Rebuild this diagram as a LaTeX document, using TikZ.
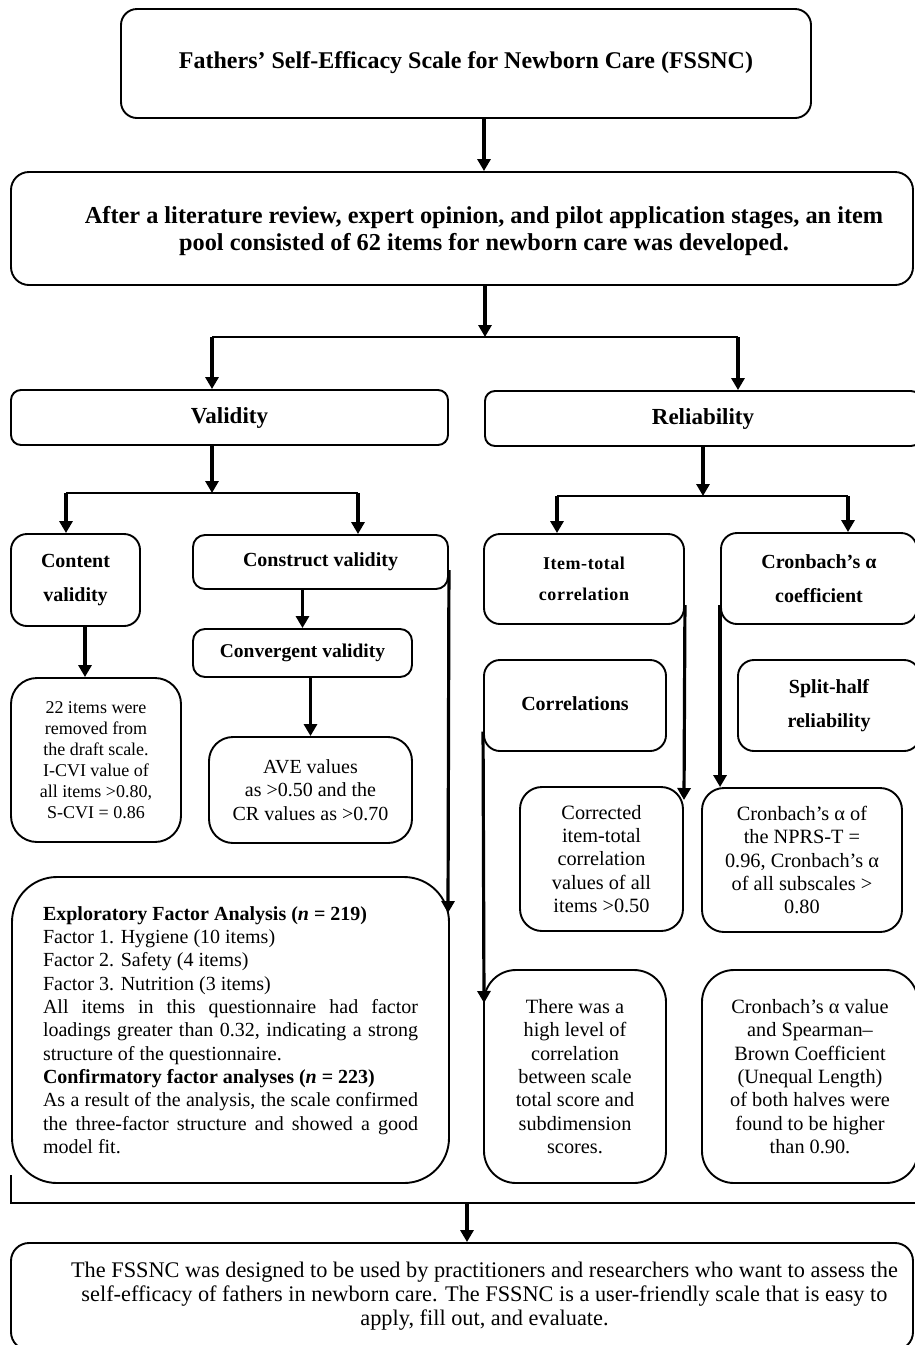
\documentclass[tikz,border=0pt]{standalone}
\usepackage{fontspec}
\setmainfont{Liberation Serif}
\usetikzlibrary{arrows.meta}
\newcommand\fsz[2]{\fontsize{#1}{#2}\selectfont}
\begin{document}
\begin{tikzpicture}[x=1pt,y=-1pt,
  bx/.style={draw, line width=1.9pt, rounded corners=#1, inner sep=0pt, align=center},
  bx/.default=12pt,
  hd/.style={font=\fsz{20}{34}\bfseries},
  bd/.style={font=\fsz{20.3}{23.3}},
  arr/.style={line width=3.2pt, -{Triangle[length=12pt,width=13pt]}},
  ln/.style={line width=2.5pt},
]
\useasboundingbox (0,0) rectangle (914,1345);

% top
\node[bx=16pt, minimum width=690pt, minimum height=109pt, font=\fsz{24}{28}\bfseries] (top) at (466,63.5)
  {\raisebox{7pt}{Fathers’ Self-Efficacy Scale for Newborn Care (FSSNC)}};
\node[bx=18pt, minimum width=902pt, minimum height=113pt] (pool) at (462,228.5) {};
\node[align=center, inner sep=0pt, font=\fsz{24.3}{27}\bfseries] (poolT) at (484,231.5)
  {After a literature review, expert opinion, and pilot application stages, an item\\pool consisted of 62 items for newborn care was developed.};

% level 2
\node[bx=10pt, minimum width=437pt, minimum height=55pt, font=\fsz{23}{27}\bfseries] (validity) at (229.5,417.5) {Validity};
\node[bx=10pt, minimum width=436pt, minimum height=55pt, font=\fsz{23}{27}\bfseries] (reliability) at (703,418.5) {Reliability};

% validity side
\node[bx=16pt, minimum width=129pt, minimum height=92pt, hd] (content) at (75.5,580) {Content\\validity};
\node[bx=12pt, minimum width=255pt, minimum height=54pt, hd] (construct) at (320.5,562) {\raisebox{4pt}{Construct validity}};
\node[bx=12pt, minimum width=219pt, minimum height=48pt, font=\fsz{19.5}{23}\bfseries] (convergent) at (302.5,653) {Convergent validity};
\node[bx=24pt, minimum width=203pt, minimum height=106pt, font=\fsz{20}{23.5}] (ave) at (310.5,790)
  {AVE values\\as >0.50 and the\\CR values as >0.70};
\node[bx=26pt, minimum width=170pt, minimum height=164pt, font=\fsz{18}{21}] (items22) at (96,760)
  {22 items were\\removed from\\the draft scale.\\I-CVI value of\\all items >0.80,\\S-CVI = 0.86};
\node[bx=45pt, minimum width=437pt, minimum height=306pt, text width=375pt, align=justify, font=\fsz{20}{23.3}] (efa) at (230.5,1030)
  {\textbf{Exploratory Factor Analysis (\textit{n} = 219)}\\
   Factor 1. Hygiene (10 items)\\
   Factor 2. Safety (4 items)\\
   Factor 3. Nutrition (3 items)\\
   All items in this questionnaire had factor\linebreak loadings greater than 0.32, indicating a strong\linebreak structure of the questionnaire.\\
   \textbf{Confirmatory factor analyses (\textit{n} = 223)}\\
   As a result of the analysis, the scale confirmed\linebreak the three-factor structure and showed a good\linebreak model fit.};

% reliability side
\node[bx=16pt, minimum width=200pt, minimum height=90pt, font=\fsz{18}{31}\bfseries\addfontfeature{LetterSpace=3}] (itemtotal) at (584,579) {Item-total\\correlation};
\node[bx=16pt, minimum width=196pt, minimum height=91pt, hd] (cron) at (819,578.5) {Cronbach’s α\\coefficient};
\node[bx=16pt, minimum width=182pt, minimum height=91pt, hd] (corr) at (575,705.5) {\raisebox{4pt}{Correlations}};
\node[bx=16pt, minimum width=182pt, minimum height=91pt, hd] (split) at (829,705.5) {Split-half\\reliability};
\node[bx=22pt, minimum width=163pt, minimum height=144pt, bd] (corrected) at (601.5,859)
  {Corrected\\item-total\\correlation\\values of all\\items >0.50};
\node[bx=22pt, minimum width=200pt, minimum height=144pt, bd] (cronres) at (802,860)
  {Cronbach's α of\\the NPRS-T =\\0.96, Cronbach’s α\\of all subscales >\\0.80};
\node[bx=32pt, minimum width=182pt, minimum height=213pt, bd] (therewas) at (575,1076.5)
  {There was a\\high level of\\correlation\\between scale\\total score and\\subdimension\\scores.};
\node[bx=32pt, minimum width=216pt, minimum height=213pt, bd] (cronval) at (810,1076.5)
  {Cronbach's α value\\and Spearman–\\Brown Coefficient\\(Unequal Length)\\of both halves were\\found to be higher\\than 0.90.};

% final
\node[bx=18pt, minimum width=902pt, minimum height=107pt] (final) at (462,1296.5) {};
\node[align=center, inner sep=0pt, font=\fsz{22.3}{24}] (finalT) at (484.5,1296)
  {The FSSNC was designed to be used by practitioners and researchers who want to assess the\\self-efficacy of fathers in newborn care. The FSSNC is a user-friendly scale that is easy to\\apply, fill out, and evaluate.};

% connectors
\draw[arr] (top.south -| poolT) -- (pool.north -| poolT);
\coordinate (jm) at (485,337);
\coordinate (jV) at (212,337);
\coordinate (jR) at (738,337);
\draw[arr] (pool.south -| jm) -- (jm);
\draw[ln] (jV) -- (jR);
\draw[arr] (jV) -- (jV |- validity.north);
\draw[arr] (jR) -- (jR |- reliability.north);

\coordinate (vj) at (212,493);
\coordinate (vl) at (66,493);
\coordinate (vr) at (358,493);
\draw[arr] (vj |- validity.south) -- (vj);
\draw[ln] (vl) -- (vr);
\draw[arr] (vl) -- (vl |- content.north);
\draw[arr] (vr) -- (vr |- construct.north);

\coordinate (rj) at (703,496);
\coordinate (rl) at (557,496);
\coordinate (rr) at (848,496);
\draw[arr] (reliability.south) -- (rj);
\draw[ln] (rl) -- (rr);
\draw[arr] (rl) -- (rl |- itemtotal.north);
\draw[arr] (rr) -- (rr |- cron.north);

\draw[arr] (construct.south -| convergent.north) -- (convergent.north);
\draw[arr] (convergent.south -| ave.north) -- (ave.north);
\draw[arr] ([xshift=9.5pt]content.south) -- ([xshift=9.5pt]content.south |- items22.north);

\coordinate (efaTip) at (448,913);
\draw[arr] ([yshift=-8pt]construct.east) -- (efaTip);
\coordinate (ctTip) at (684,800);
\draw[arr] ([yshift=-26pt]itemtotal.east) -- (ctTip);
\draw[arr] ([yshift=-26pt]cron.west) -- (cron.west |- cronres.north);
\coordinate (twTip) at (484,1003);
\draw[arr] ([yshift=-26pt]corr.west) -- (twTip);

\coordinate (bl1) at (11,1175);
\coordinate (bl2) at (11,1203);
\coordinate (br) at (916,1203);
\coordinate (bm) at (467,1203);
\draw[ln] (bl1) -- (bl2) -- (br);
\draw[arr] (bm) -- (bm |- final.north);
\end{tikzpicture}
\end{document}
